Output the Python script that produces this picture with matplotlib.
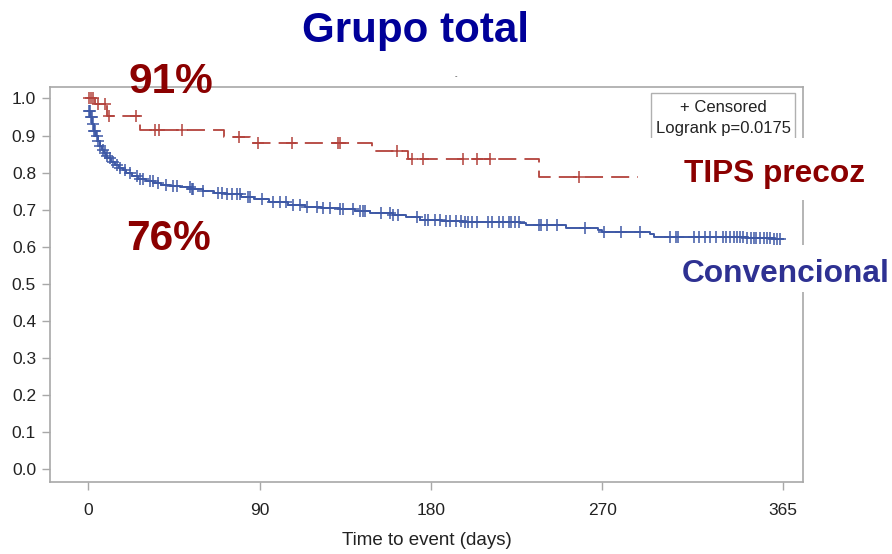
import numpy as np
import matplotlib
matplotlib.use("Agg")
import matplotlib.pyplot as plt
from matplotlib.patches import Rectangle
from matplotlib import font_manager

# ---------------- data ----------------
tips_t = [0, 3.5, 10, 27, 71, 85, 149, 168, 237]
tips_s = [1.0, 0.985, 0.954, 0.915, 0.897, 0.880, 0.858, 0.836, 0.788]
tips_end = 289
tips_cens = [0.5, 1.5, 2.5, 5, 8.5, 11, 25, 35, 37, 49, 79, 89, 107, 131, 132,
             162, 170, 176, 197, 204, 211, 258]

conv_t = [0, 1, 2, 3, 4, 5, 6, 7, 8, 9, 10, 12, 14, 16, 18, 20, 23, 26, 30, 34,
          38, 43, 48, 54, 60, 66, 72, 80, 87, 95, 105, 114, 122, 132, 140, 148,
          160, 167, 174, 186, 197, 227, 230, 251, 268, 270, 295, 297, 346, 360]
conv_s = [0.965, 0.950, 0.932, 0.912, 0.898, 0.885, 0.872, 0.862, 0.853, 0.846,
          0.840, 0.830, 0.821, 0.813, 0.806, 0.799, 0.790, 0.783, 0.777, 0.772,
          0.768, 0.765, 0.762, 0.756, 0.750, 0.746, 0.742, 0.735, 0.729, 0.721,
          0.714, 0.708, 0.705, 0.701, 0.697, 0.691, 0.685, 0.681, 0.673, 0.670,
          0.668, 0.665, 0.659, 0.650, 0.645, 0.639, 0.636, 0.626, 0.623, 0.620]
conv_end = 365
conv_cens = [0.3, 0.8, 1.2, 1.8, 2.5, 3, 3.6, 4.3, 5, 6, 7.6, 8.5, 9.6, 11.3, 12.9,
             14.8, 16.6, 19.2, 21.8, 25.3, 27, 28.6, 32.3, 33.9, 36.5, 41, 44.4,
             46.3, 53.3, 54.2, 55, 60, 68, 70, 72.6, 75.2, 77.9, 79.6, 83.8, 84.9,
             91, 97, 100.6, 104, 107.5, 111, 114.7, 120, 123, 126.9, 132, 133.7,
             139, 142.6, 144.2, 145.3, 154, 158.4, 160, 162.6, 172.5, 176.8, 178.4,
             182, 185, 188, 190, 193, 196, 198, 199.6, 201.4, 204, 210, 212, 216,
             218, 221, 222.3, 224, 226, 237, 238, 240.8, 246, 261, 271, 280, 289.8,
             305.6, 309, 310, 318, 321, 324, 326.6, 330, 333.5, 335, 337, 339, 341,
             342.5, 344, 346, 348, 349.6, 351, 353, 355, 356.5, 358, 360, 362, 363.5]

x_ticks = [0, 90, 180, 270, 365]
y_ticks = [0.0, 0.1, 0.2, 0.3, 0.4, 0.5, 0.6, 0.7, 0.8, 0.9, 1.0]

title = "Grupo total"
xlabel = "Time to event (days)"
label_tips = "TIPS precoz"
label_conv = "Convencional"
pct_tips = "91%"
pct_conv = "76%"
legend_lines = ["+ Censored", "Logrank p=0.0175"]

# ---------------- fonts ----------------
avail = {f.name for f in font_manager.fontManager.ttflist}
narrow = "Liberation Sans Narrow" if "Liberation Sans Narrow" in avail else "Liberation Sans"
bold_font = "Liberation Sans"

W, H = 892, 554
fig = plt.figure(figsize=(W / 100, H / 100), dpi=100)

def fx(x):
    return x / W

def fy(y):
    return 1 - y / H

ax = fig.add_axes([fx(50), fy(482), fx(803) - fx(50), fy(87) - fy(482)])
ax.set_xlim(-20.2, 375.5)
ax.set_ylim(-0.034, 1.031)

red = "#b3423c"
blue = "#3e59a6"

def step_val(ts, ss, c):
    idx = np.searchsorted(np.asarray(ts), np.asarray(c), side="right") - 1
    return np.asarray(ss)[idx]

# TIPS precoz curve
ax.step(tips_t + [tips_end], tips_s + [tips_s[-1]], where="post",
        color=red, lw=1.3, ls=(0, (10, 4.5)))
ax.plot(tips_cens, step_val(tips_t, tips_s, tips_cens), ls="none", marker="+",
        ms=8, mew=1.1, color=red)

# Convencional curve
ax.step(conv_t + [conv_end], conv_s + [conv_s[-1]], where="post",
        color=blue, lw=1.4)
ax.plot(conv_cens, step_val(conv_t, conv_s, conv_cens), ls="none", marker="+",
        ms=8, mew=1.1, color=blue)

# axes style
for sp in ax.spines.values():
    sp.set_color("#a8a8a8")
    sp.set_linewidth(1.2)
ax.set_xticks(x_ticks)
ax.set_yticks(y_ticks)
ax.set_xticklabels([str(v) for v in x_ticks])
ax.set_yticklabels([f"{v:.1f}" for v in y_ticks])
ax.tick_params(axis="both", colors="#a8a8a8", labelcolor="#222222", length=6,
               width=1.0, labelsize=12.5)
for lab in ax.get_xticklabels() + ax.get_yticklabels():
    lab.set_family(narrow)
ax.tick_params(axis="x", pad=9)
ax.tick_params(axis="y", pad=4)
ax.set_xlabel(xlabel, family=narrow, fontsize=13.5, color="#222222", labelpad=10)

# legend box (inside plot)
fig.patches.append(Rectangle((fx(651), fy(140)), fx(795) - fx(651), fy(93) - fy(140),
                             transform=fig.transFigure, facecolor="white",
                             edgecolor="#b0b0b0", lw=1.0, zorder=3))
fig.text(fx(723), fy(107), legend_lines[0], ha="center", va="center",
         family=narrow, fontsize=12, color="#222222", zorder=4)
fig.text(fx(723), fy(129), legend_lines[1], ha="center", va="center",
         family=narrow, fontsize=12, color="#222222", zorder=4)

# white masks behind the big labels
fig.patches.append(Rectangle((fx(638), fy(200)), fx(892) - fx(638), fy(138) - fy(200),
                             transform=fig.transFigure, facecolor="white",
                             edgecolor="none", zorder=5))
fig.patches.append(Rectangle((fx(676), fy(292)), fx(892) - fx(676), fy(245) - fy(292),
                             transform=fig.transFigure, facecolor="white",
                             edgecolor="none", zorder=5))

# big annotation texts
fig.text(fx(415), fy(31), title, ha="center", va="center", family=bold_font,
         fontweight="bold", fontsize=30.3, color="#000099", zorder=6)
fig.text(fx(171), fy(82), pct_tips, ha="center", va="center", family=bold_font,
         fontweight="bold", fontsize=30.5, color="#8b0000", zorder=6)
fig.text(fx(168), fy(239), pct_conv, ha="center", va="center", family=bold_font,
         fontweight="bold", fontsize=30.5, color="#8b0000", zorder=6)
fig.text(fx(775), fy(174), label_tips, ha="center", va="center", family=bold_font,
         fontweight="bold", fontsize=22.8, color="#8b0000", zorder=6)
fig.text(fx(786), fy(274), label_conv, ha="center", va="center", family=bold_font,
         fontweight="bold", fontsize=22.8, color="#2e3192", zorder=6)
fig.text(fx(456), fy(76), "-", ha="center", va="center", fontsize=5,
         color="#333333", zorder=6)

fig.savefig("out.png", dpi=100, facecolor="white")
